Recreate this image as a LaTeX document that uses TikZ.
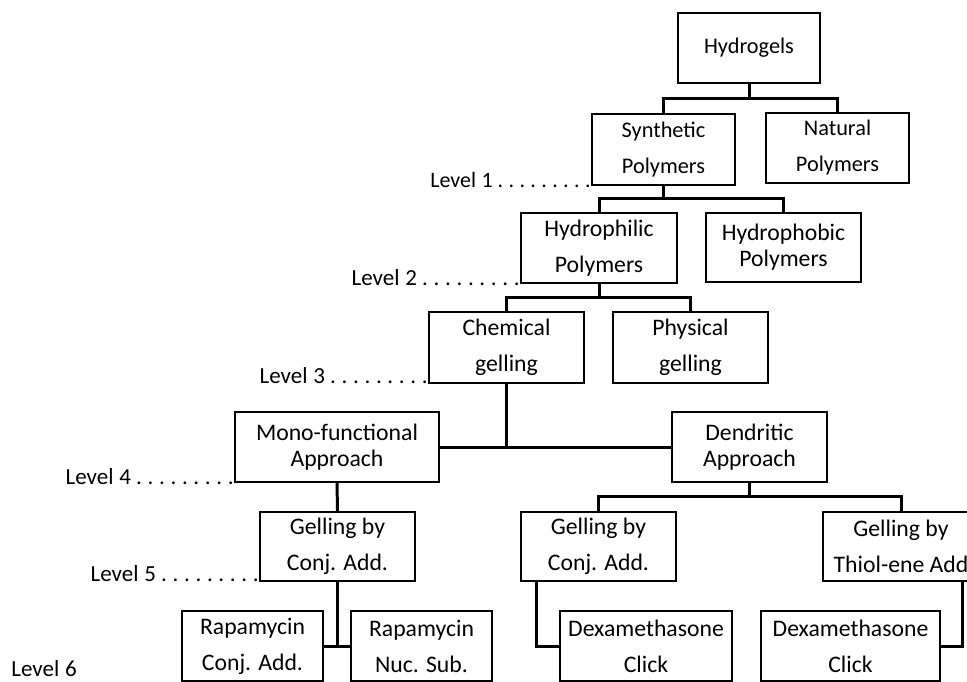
\documentclass[tikz,border=0pt]{standalone}
\usepackage{fontspec}
\setmainfont{Carlito}
\usepackage{tikz}
\newcommand{\lvlfont}[1]{\fontsize{#1}{15}\selectfont\spaceskip=0.17em\relax}
\newcommand{\lvlname}[1]{Level\hspace{0.25em}#1\hspace{0.06em} . . . . . . . . .}

\begin{document}
\begin{tikzpicture}[x=0.02cm, y=-0.02cm,
        box/.style={draw, line width=1.1pt, align=center, inner sep=0pt,
            minimum height=1.4cm, font=\fontsize{13.5}{20.5}\selectfont},
        top/.style={font=\fontsize{12.7}{20.5}\selectfont},
        tight/.style={font=\fontsize{13.5}{14.8}\selectfont},
        link/.style={line width=1.7pt},
        lvl/.style={inner sep=0pt, anchor=base east, font=\lvlfont{13.1}}]
    \useasboundingbox (0,0) rectangle (967,681);
    \clip (0,0) rectangle (967,681);

    \node[box, top, minimum width=2.84cm] (hydrogels) at (749,48) {Hydrogels};
    \node[box, top, minimum width=2.86cm, minimum height=1.42cm] (synth) at (663.5,149.5) {Synthetic\\Polymers};
    \node[box, top, minimum width=2.86cm] (natural) at (837.5,148) {Natural\\Polymers};
    \node[box, minimum width=3.12cm] (hphil) at (599,248) {Hydrophilic\\Polymers};
    \node[box, tight, minimum width=3.1cm, minimum height=1.38cm] (hphob) at (783.5,247.5) {Hydrophobic\\Polymers};
    \node[box, minimum width=3.1cm, minimum height=1.42cm] (chem) at (506.5,347.5) {Chemical\\gelling};
    \node[box, minimum width=3.1cm, minimum height=1.42cm] (phys) at (690.5,347.5) {Physical\\gelling};
    \node[box, tight, minimum width=4.08cm] (mono) at (337,447) {Mono-functional\\Approach};
    \node[box, tight, minimum width=3.1cm] (dend) at (749.5,447) {Dendritic\\Approach};
    \node[box, minimum width=3.1cm, minimum height=1.38cm] (gelA) at (337.5,546.5) {Gelling by\\Conj. Add.};
    \node[box, minimum width=3.1cm, minimum height=1.38cm] (gelB) at (598.5,546.5) {Gelling by\\Conj. Add.};
    \node[box, minimum width=3.12cm, minimum height=1.38cm] (gelC) at (901,546.5) {Gelling by\\Thiol-ene Add};
    \node[box, minimum width=2.82cm] (rapaA) at (252.5,646) {Rapamycin\\Conj. Add.};
    \node[box, minimum width=2.82cm] (rapaB) at (421.5,646) {Rapamycin\\Nuc. Sub.};
    \node[box, minimum width=3.44cm] (dexA) at (646,646) {Dexamethasone\\Click};
    \node[box, minimum width=3.58cm] (dexB) at (850.5,646) {Dexamethasone\\Click};

    \node[lvl, font=\lvlfont{12.5}] (lvl1) at ([yshift=-0.04cm]synth.south west) {\lvlname{1}};
    \node[lvl] (lvl2) at ([yshift=-0.04cm]hphil.south west) {\lvlname{2}};
    \node[lvl] (lvl3) at (chem.south west) {\lvlname{3}};
    \node[lvl] (lvl4) at ([yshift=-0.04cm]mono.south west) {\lvlname{4}};
    \node[lvl] (lvl5) at (gelA.south west) {\lvlname{5}};
    \node[lvl, anchor=base west] (lvl6) at (11,676) {Level\hspace{0.25em}6};

    \draw[link] (hydrogels.south) -- ++(0,15) coordinate (j1);
    \draw[link] (synth.north) |- (j1) -| (natural.north);
    \draw[link] (synth.south) -- ++(0,13) coordinate (j2);
    \draw[link] (hphil.north) |- (j2) -| (hphob.north);
    \draw[link] (hphil.south) -- ++(0,14) coordinate (j3);
    \draw[link] (chem.north) |- (j3) -| (phys.north);
    \draw[link] (chem.south) -- (chem.south |- mono.east);
    \draw[link] (mono.east) -- (dend.west);
    \draw[link] (mono.south) -- (gelA.north);
    \draw[link] (dend.south) -- ++(0,14) coordinate (j4);
    \draw[link] (gelB.north) |- (j4) -| (gelC.north);
    \draw[link] (gelA.south) -- (gelA.south |- rapaA.east);
    \draw[link] (rapaA.east) -- (rapaB.west);
    \draw[link] ([xshift=0.32cm]gelB.south west) |- (dexA.west);
    \draw[link] ([xshift=-0.34cm]gelC.south east) |- (dexB.east);
\end{tikzpicture}
\end{document}
